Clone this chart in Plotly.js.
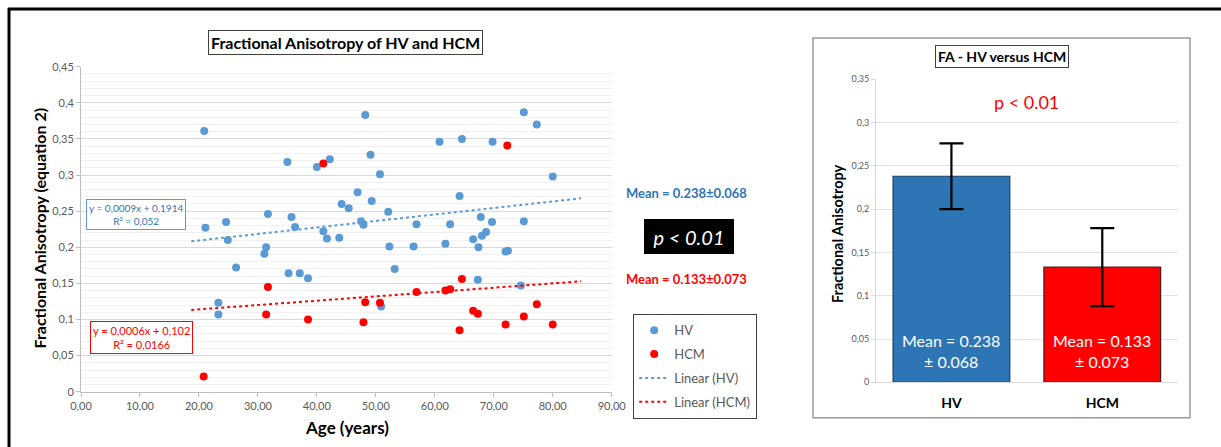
<!DOCTYPE html>
<html>
<head>
<meta charset="utf-8">
<script src="https://cdn.plot.ly/plotly-3.0.1.min.js"></script>
<style>
  html, body { margin: 0; padding: 0; background: #fff; }
  #chart { width: 1221px; height: 447px; }
</style>
</head>
<body>
<div id="chart"></div>
<script>
// ---------------- DATA ----------------
const hvAge = [20.9, 21.1, 23.3, 23.3, 24.6, 24.9, 26.3, 31.1, 31.4, 31.7, 35.0, 35.2, 35.7, 36.3, 37.1, 38.5,
  40.0, 41.1, 41.7, 42.2, 43.8, 44.2, 45.4, 46.9, 47.5, 47.9, 48.2, 49.1, 49.3, 50.7, 50.9, 52.1, 52.3, 53.2,
  56.4, 56.9, 60.8, 61.8, 62.6, 64.2, 64.6, 66.5, 67.3, 67.4, 67.8, 68.0, 68.7, 69.7, 69.8, 72.0, 72.4, 74.6,
  75.1, 75.1, 77.3, 80.0];
const hvFA = [0.361, 0.227, 0.123, 0.107, 0.235, 0.210, 0.172, 0.191, 0.200, 0.246, 0.318, 0.164, 0.242, 0.228, 0.164, 0.157,
  0.311, 0.222, 0.212, 0.322, 0.213, 0.260, 0.254, 0.276, 0.236, 0.231, 0.383, 0.328, 0.264, 0.301, 0.118, 0.249, 0.201, 0.170,
  0.201, 0.232, 0.346, 0.205, 0.232, 0.271, 0.350, 0.211, 0.155, 0.200, 0.242, 0.216, 0.221, 0.235, 0.346, 0.194, 0.195, 0.147,
  0.387, 0.236, 0.370, 0.298];
const hcmAge = [20.8, 31.4, 31.7, 38.5, 41.1, 47.9, 48.2, 50.7, 56.9, 61.8, 62.6, 64.2, 64.6, 66.5, 67.3, 72.0, 72.3, 75.1, 77.3, 80.0];
const hcmFA = [0.021, 0.107, 0.145, 0.100, 0.316, 0.096, 0.124, 0.123, 0.138, 0.140, 0.142, 0.085, 0.156, 0.112, 0.108, 0.093, 0.341, 0.104, 0.121, 0.093];

// Trendlines as displayed (y = slope*x + intercept), drawn over this age span
const trendAgeSpan = [18.7, 84.8];
const hvTrendCoef = [0.0009, 0.1914];
const hcmTrendCoef = [0.0006, 0.102];

// Bar chart
const groups = ['HV', 'HCM'];
const groupMeans = [0.238, 0.133];
const groupSD = [0.068, 0.073];
const groupErr = [0.038, 0.045];

const xTickVals = [0, 10, 20, 30, 40, 50, 60, 70, 80, 90];

// ---------------- LAYOUT HELPERS ----------------
const W = 1221, H = 447;
const px = x => x / W;
const py = y => 1 - y / H;
const FONT = 'Lato, "Open Sans", sans-serif';
const GREY = '#595959';
const BAR_LABEL_Y = 0.036;

const line = (coef) => trendAgeSpan.map(a => coef[0] * a + coef[1]);

const traces = [
  { type: 'scatter', mode: 'markers', name: 'HV', x: hvAge, y: hvFA, xaxis: 'x', yaxis: 'y',
    legendgroup: 'a', marker: { color: '#5B9BD5', size: 8 } },
  { type: 'scatter', mode: 'markers', name: 'HCM', x: hcmAge, y: hcmFA, xaxis: 'x', yaxis: 'y',
    legendgroup: 'b', marker: { color: '#FF0000', size: 8 } },
  { type: 'scatter', mode: 'lines', name: 'Linear (HV)', x: trendAgeSpan, y: line(hvTrendCoef), xaxis: 'x', yaxis: 'y',
    legendgroup: 'c', line: { color: '#5B9BD5', width: 2, dash: 'dot' } },
  { type: 'scatter', mode: 'lines', name: 'Linear (HCM)', x: trendAgeSpan, y: line(hcmTrendCoef), xaxis: 'x', yaxis: 'y',
    legendgroup: 'd', line: { color: '#FF0000', width: 2, dash: 'dot' } },
  { type: 'bar', x: groups, y: groupMeans, xaxis: 'x2', yaxis: 'y2', showlegend: false,
    marker: { color: ['#2E75B6', '#FF0000'], line: { color: ['#1F3D66', '#4A1A1A'], width: 1.2 } },
    error_y: { type: 'data', array: groupErr, visible: true, color: '#000', thickness: 2.2, width: 12 },
    hoverinfo: 'skip' }
];

const barLabels = groups.map((g, i) => ({
  xref: 'x2', yref: 'y2', x: g, y: BAR_LABEL_Y, xanchor: 'center', yanchor: 'middle', showarrow: false,
  text: 'Mean = ' + groupMeans[i].toFixed(3) + '<br>± ' + groupSD[i].toFixed(3),
  font: { size: 16, color: '#fff', family: FONT }
}));

const layout = {
  width: W, height: H,
  margin: { l: 0, r: 0, t: 0, b: 0 },
  paper_bgcolor: '#fff', plot_bgcolor: 'rgba(0,0,0,0)',
  font: { family: FONT, color: GREY },
  separators: ',.',
  showlegend: true,
  bargap: 0.226,
  legend: {
    x: px(633), y: py(314), xanchor: 'left', yanchor: 'top',
    bordercolor: '#404040', borderwidth: 1.2, bgcolor: '#fff',
    font: { size: 13, color: GREY, family: FONT },
    tracegroupgap: 4, traceorder: 'grouped', entrywidth: 88
  },
  xaxis: {
    domain: [px(81), px(611.7)], range: [0, 90], anchor: 'y',
    tickvals: xTickVals, tickformat: '.2f',
    showgrid: false, zeroline: false, showline: true, linecolor: '#BFBFBF', linewidth: 1,
    ticks: 'outside', ticklen: 4, tickcolor: '#BFBFBF',
    tickfont: { size: 11, color: GREY }
  },
  yaxis: {
    domain: [py(391.7), py(66.7)], range: [0, 0.45], anchor: 'x',
    tick0: 0, dtick: 0.05,
    showgrid: true, gridcolor: '#D9D9D9', gridwidth: 1, zeroline: false,
    showline: true, linecolor: '#BFBFBF', ticks: 'outside', ticklen: 4, tickcolor: '#BFBFBF',
    tickfont: { size: 11, color: GREY },
    minor: { dtick: 0.01, showgrid: true, gridcolor: '#F0F0F0', gridwidth: 1, ticks: '' }
  },
  xaxis2: {
    domain: [px(876), px(1177.7)], range: [-0.5, 1.5], anchor: 'y2',
    type: 'category', showgrid: false, zeroline: false, showline: true, linecolor: '#D9D9D9',
    ticks: '', ticklabelstandoff: 8,
    tickfont: { size: 14, color: '#000', weight: 'bold' }
  },
  yaxis2: {
    domain: [py(382.3), py(79.3)], range: [0, 0.35], anchor: 'x2',
    tick0: 0, dtick: 0.05,
    showgrid: true, gridcolor: '#E3E3E3', zeroline: false,
    showline: true, linecolor: '#D9D9D9', ticks: 'outside', ticklen: 4, tickcolor: '#D9D9D9',
    tickfont: { size: 9, color: GREY }
  },
  shapes: [
    // outer frame (top and left edges)
    { type: 'line', xref: 'paper', yref: 'paper', x0: px(8), x1: 1, y0: py(9), y1: py(9), line: { color: '#000', width: 3 } },
    { type: 'line', xref: 'paper', yref: 'paper', x0: px(9), x1: px(9), y0: py(8), y1: 0, line: { color: '#000', width: 3 } },
    // right panel box
    { type: 'rect', xref: 'paper', yref: 'paper', x0: px(813), x1: px(1190), y0: py(417.7), y1: py(38),
      line: { color: '#9A9A9A', width: 1.5 }, layer: 'below' }
  ],
  annotations: barLabels.concat([
    // left chart title
    { xref: 'paper', yref: 'paper', x: px(345), y: py(42.3), xanchor: 'center', yanchor: 'middle', showarrow: false,
      text: '<b>Fractional Anisotropy of HV and HCM</b>', font: { size: 16, color: '#000' },
      bordercolor: '#404040', borderwidth: 1, borderpad: 2, bgcolor: '#fff' },
    // left axis titles
    { xref: 'paper', yref: 'paper', x: px(39), y: py(228.5), xanchor: 'center', yanchor: 'middle', showarrow: false,
      textangle: -90, text: '<b>Fractional Anisotropy (equation 2)</b>', font: { size: 16, color: '#000' } },
    { xref: 'paper', yref: 'paper', x: px(346.7), y: py(427.3), xanchor: 'center', yanchor: 'middle', showarrow: false,
      text: '<b>Age (years)</b>', font: { size: 17, color: '#000' } },
    // trend equations
    { xref: 'paper', yref: 'paper', x: px(135.8), y: py(214.7), xanchor: 'center', yanchor: 'middle', showarrow: false,
      text: 'y = 0,0009x + 0,1914<br>R² = 0,052', font: { size: 10, color: '#2E75B6' },
      bordercolor: '#5B9BD5', borderwidth: 1, borderpad: 2, bgcolor: '#fff' },
    { xref: 'paper', yref: 'paper', x: px(141.7), y: py(337.7), xanchor: 'center', yanchor: 'middle', showarrow: false,
      text: 'y = 0,0006x + 0,102<br>R² = 0,0166', font: { size: 11, color: '#FF0000' },
      bordercolor: '#FF0000', borderwidth: 1, borderpad: 2, bgcolor: '#fff' },
    // means and p-value between charts
    { xref: 'paper', yref: 'paper', x: px(686.7), y: py(192.7), xanchor: 'center', yanchor: 'middle', showarrow: false,
      text: '<b>Mean = 0.238±0.068</b>', font: { size: 13, color: '#2E75B6' } },
    { xref: 'paper', yref: 'paper', x: px(689.3), y: py(236.5), xanchor: 'center', yanchor: 'middle', showarrow: false,
      text: '<i>p &lt; 0.01</i>', font: { size: 20, color: '#fff' },
      bgcolor: '#000', width: 86, height: 31, bordercolor: '#000', borderwidth: 1 },
    { xref: 'paper', yref: 'paper', x: px(686.7), y: py(279), xanchor: 'center', yanchor: 'middle', showarrow: false,
      text: '<b>Mean = 0.133±0.073</b>', font: { size: 13, color: '#FF0000' } },
    // right chart title
    { xref: 'paper', yref: 'paper', x: px(1002), y: py(56.2), xanchor: 'center', yanchor: 'middle', showarrow: false,
      text: '<b>FA - HV versus HCM</b>', font: { size: 14, color: '#000' },
      bordercolor: '#404040', borderwidth: 1, borderpad: 2, bgcolor: '#fff' },
    { xref: 'paper', yref: 'paper', x: px(1026), y: py(102), xanchor: 'center', yanchor: 'middle', showarrow: false,
      text: 'p &lt; 0.01', font: { size: 18, color: '#FF0000' } },
    { xref: 'paper', yref: 'paper', x: px(837), y: py(233), xanchor: 'center', yanchor: 'middle', showarrow: false,
      textangle: -90, text: '<b>Fractional Anisotropy</b>', font: { size: 14.5, color: '#000' } }
  ])
};

Plotly.newPlot('chart', traces, layout, { displayModeBar: false, staticPlot: true });
</script>
</body>
</html>
